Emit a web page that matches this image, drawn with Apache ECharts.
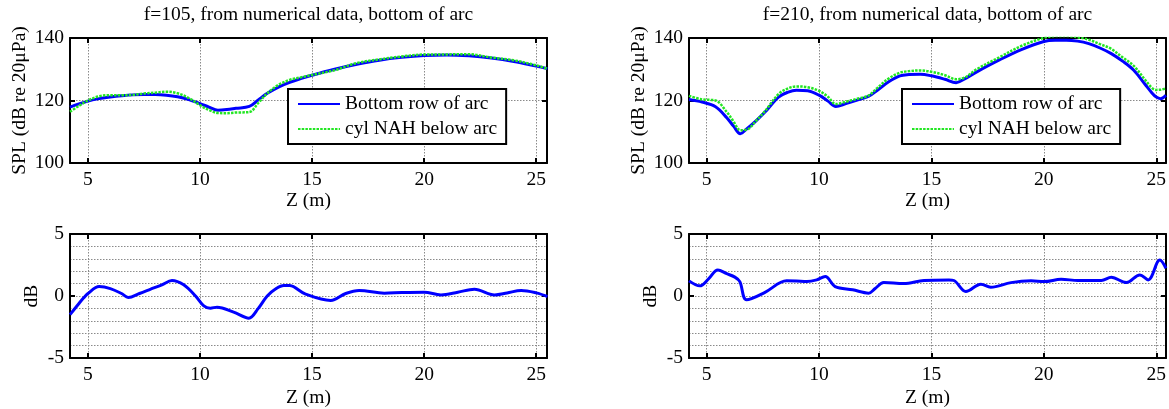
<!DOCTYPE html>
<html>
<head>
<meta charset="utf-8">
<script src="https://cdn.jsdelivr.net/npm/echarts@6/dist/echarts.min.js"></script>
<style>
html,body{margin:0;padding:0;background:#fff;}
#chart{width:1169px;height:409px;}
</style>
</head>
<body>
<div id="chart"></div>
<script>
// ---------- data ----------
const titles = ['f=105, from numerical data, bottom of arc', 'f=210, from numerical data, bottom of arc'];
const seriesNames = ['Bottom row of arc', 'cyl NAH below arc'];
const xTickValues = [5, 10, 15, 20, 25];

// f = 105, top panel
const zL = [4.2, 4.6, 5.0, 5.5, 6.0, 6.5, 7.0, 7.5, 8.0, 8.5, 9.0, 9.5, 10.0, 10.4, 10.8, 11.2, 11.6, 12.2, 12.6, 13.0, 13.5, 14.0, 14.5, 15.0, 16.0, 17.0, 18.0, 19.0, 20.0, 21.0, 22.0, 23.0, 24.0, 25.0, 25.5];
const bottomRowL = [117.9, 118.9, 119.8, 120.6, 121.1, 121.5, 121.8, 121.9, 121.9, 121.7, 121.2, 120.3, 119.0, 117.9, 116.9, 117.1, 117.5, 118.1, 120.2, 122.3, 124.3, 125.8, 127.0, 128.1, 130.0, 131.6, 132.9, 133.8, 134.4, 134.6, 134.3, 133.6, 132.5, 131.0, 130.2];
const cylNahL = [116.4, 118.3, 120.0, 121.35, 121.7, 121.7, 121.8, 122.25, 122.5, 122.8, 122.3, 120.8, 118.5, 116.95, 116.0, 115.95, 116.15, 116.3, 119.2, 122.3, 125.0, 126.6, 127.4, 128.15, 129.7, 132.0, 133.15, 134.1, 134.7, 134.75, 134.8, 133.75, 132.85, 131.25, 130.15];

// f = 105, difference panel
const zDiffL = [4.2, 4.6, 4.8, 5.0, 5.5, 6.0, 6.5, 6.8, 7.3, 7.8, 8.3, 8.75, 9.27, 9.8, 10.17, 10.46, 10.76, 11.5, 12.18, 12.6, 13.0, 13.4, 13.74, 14.0, 14.71, 15.83, 16.5, 17.1, 18.22, 19.0, 20.0, 20.75, 21.5, 22.24, 23.14, 23.7, 24.33, 25.0, 25.5];
const diffL = [-1.5, -0.6, -0.17, 0.2, 0.76, 0.6, 0.2, -0.12, 0.2, 0.55, 0.9, 1.25, 0.9, 0.0, -0.79, -0.98, -0.9, -1.3, -1.79, -1.0, 0.0, 0.6, 0.85, 0.84, 0.15, -0.36, 0.2, 0.44, 0.23, 0.28, 0.31, 0.09, 0.3, 0.55, 0.09, 0.25, 0.44, 0.25, -0.04];

// f = 210, top panel
const zR = [4.22, 4.8, 5.4, 5.9, 6.2, 6.5, 6.8, 7.2, 7.6, 8.2, 8.6, 9.0, 9.5, 10.0, 10.4, 10.75, 11.2, 11.7, 12.2, 12.6, 13.1, 13.6, 14.0, 14.5, 15.0, 15.6, 16.1, 16.5, 17.0, 18.0, 19.0, 20.0, 20.5, 21.0, 21.5, 22.0, 22.5, 23.0, 23.5, 24.0, 24.5, 24.8, 25.0, 25.2, 25.43];
const bottomRowR = [120.3, 119.5, 118.0, 114.5, 111.8, 109.4, 111.0, 113.5, 116.3, 121.1, 122.6, 123.3, 123.1, 121.7, 119.8, 118.1, 119.0, 120.1, 121.3, 123.3, 126.0, 127.9, 128.3, 128.4, 127.9, 126.8, 125.7, 127.0, 129.1, 132.9, 136.3, 138.9, 139.3, 139.3, 139.0, 138.2, 136.8, 135.0, 132.6, 129.7, 125.2, 122.5, 121.1, 120.6, 121.7];
const cylNahR = [121.5, 120.35, 120.0, 116.3, 113.3, 110.5, 110.7, 113.5, 116.6, 122.05, 123.8, 124.5, 124.25, 123.1, 121.2, 118.85, 119.6, 120.55, 121.55, 124.05, 127.05, 128.9, 129.4, 129.6, 129.17, 128.1, 126.8, 127.4, 129.95, 133.75, 137.45, 140.06, 140.6, 140.63, 140.25, 139.45, 138.05, 136.5, 133.8, 131.1, 126.65, 124.1, 123.4, 123.45, 123.94];

// f = 210, difference panel
const zDiffR = [4.22, 4.7, 5.1, 5.5, 5.9, 6.26, 6.48, 6.78, 7.6, 8.56, 9.0, 9.46, 9.9, 10.28, 10.72, 11.5, 12.21, 12.5, 12.88, 13.77, 14.67, 15.78, 16.0, 16.53, 17.2, 17.64, 18.54, 19.43, 20.02, 20.77, 21.52, 22.56, 23.0, 23.67, 24.27, 24.64, 25.16, 25.43];
const diffR = [1.22, 0.82, 1.4, 2.1, 1.8, 1.52, 1.16, -0.31, 0.3, 1.22, 1.2, 1.16, 1.3, 1.57, 0.76, 0.5, 0.23, 0.6, 1.08, 1.0, 1.25, 1.3, 1.25, 0.36, 0.95, 0.71, 1.08, 1.22, 1.16, 1.35, 1.25, 1.25, 1.51, 1.08, 1.7, 1.3, 2.9, 2.24];

// ---------- chart ----------
const FONT = "'Liberation Serif', 'Times New Roman', serif";
const FS = 19.5;
const pairs = (xs, ys) => xs.map((x, i) => [x, ys[i]]);

const grids = [
  {left: 70, top: 38, width: 477, height: 125},
  {left: 70, top: 234, width: 477, height: 124},
  {left: 689, top: 38, width: 477, height: 125},
  {left: 689, top: 234, width: 477, height: 124}
];
const xRanges = [[4.2, 25.48], [4.2, 25.48], [4.22, 25.43], [4.22, 25.43]];
const isTop = [true, false, true, false];

const gridLine = {color: '#8a8a8a', width: 1, type: [1.5, 1.5]};
const xAxes = [], yAxes = [];
grids.forEach((g, i) => {
  const [mn, mx] = xRanges[i];
  const top = isTop[i];
  xAxes.push({
    type: 'value', gridIndex: i, min: mn, max: mx, position: 'bottom',
    name: 'Z (m)', nameLocation: 'middle', nameGap: top ? 28 : 30,
    nameTextStyle: {fontFamily: FONT, fontSize: FS, color: '#000'},
    axisLine: {show: true, onZero: false, lineStyle: {color: '#000', width: 2}},
    axisTick: {show: true, inside: true, length: 5, customValues: xTickValues, lineStyle: {color: '#000', width: 2}},
    axisLabel: {show: true, customValues: xTickValues, fontFamily: FONT, fontSize: FS, color: '#000', margin: 7},
    splitLine: {show: true, lineStyle: gridLine}
  });
  xAxes.push({
    type: 'value', gridIndex: i, min: mn, max: mx, position: 'top',
    axisLine: {show: true, onZero: false, lineStyle: {color: '#000', width: 2}},
    axisTick: {show: true, inside: true, length: 5, customValues: xTickValues, lineStyle: {color: '#000', width: 2}},
    axisLabel: {show: false},
    splitLine: {show: false}
  });
  const yCommon = top ? {min: 100, max: 140, interval: 20} : {min: -5, max: 5, interval: 5};
  yAxes.push(Object.assign({
    type: 'value', gridIndex: i, position: 'left',
    name: top ? 'SPL (dB re 20\u03bcPa)' : 'dB', nameLocation: 'middle', nameGap: top ? 40 : 28,
    nameTextStyle: {fontFamily: FONT, fontSize: FS, color: '#000'},
    axisLine: {show: true, onZero: false, lineStyle: {color: '#000', width: 2}},
    axisTick: {show: true, inside: true, length: 5, lineStyle: {color: '#000', width: 2}},
    axisLabel: {show: true, fontFamily: FONT, fontSize: FS, color: '#000', margin: 6},
    splitLine: {show: true, lineStyle: gridLine},
    minorTick: {show: false, splitNumber: 5},
    minorSplitLine: {show: !top, lineStyle: gridLine}
  }, yCommon));
  yAxes.push(Object.assign({
    type: 'value', gridIndex: i, position: 'right',
    axisLine: {show: true, onZero: false, lineStyle: {color: '#000', width: 2}},
    axisTick: {show: true, inside: true, length: 5, lineStyle: {color: '#000', width: 2}},
    axisLabel: {show: false},
    splitLine: {show: false}
  }, yCommon));
});

const blueStyle = {color: '#0000ff', width: 3};
const greenStyle = {color: '#22e622', width: 2.5, type: [2.5, 1.2]};
const mk = (name, gi, data, ls, z) => ({
  type: 'line', name: name, xAxisIndex: gi * 2, yAxisIndex: gi * 2, data: data,
  showSymbol: false, symbol: 'none', smooth: 0.35, lineStyle: ls, itemStyle: {color: ls.color},
  clip: true, z: z, animation: false
});

const series = [
  mk(seriesNames[0], 0, pairs(zL, bottomRowL), blueStyle, 3),
  mk(seriesNames[1], 0, pairs(zL, cylNahL), greenStyle, 4),
  mk('diff105', 1, pairs(zDiffL, diffL), blueStyle, 3),
  mk(seriesNames[0], 2, pairs(zR, bottomRowR), blueStyle, 3),
  mk(seriesNames[1], 2, pairs(zR, cylNahR), greenStyle, 4),
  mk('diff210', 3, pairs(zDiffR, diffR), blueStyle, 3)
];

const legendBase = {
  data: seriesNames, orient: 'vertical', top: 89,
  padding: [5, 9, 5, 9], itemGap: 5, itemWidth: 42, itemHeight: 14,
  backgroundColor: '#fff', borderColor: '#000', borderWidth: 2, borderRadius: 0,
  selectedMode: false,
  itemStyle: {opacity: 0},
  textStyle: {fontFamily: FONT, fontSize: FS, color: '#000', padding: [0, 0, 0, 0]}
};

const option = {
  animation: false,
  backgroundColor: '#fff',
  grid: grids.map(g => Object.assign({show: false, containLabel: false}, g)),
  xAxis: xAxes,
  yAxis: yAxes,
  legend: [
    Object.assign({}, legendBase, {left: 288}),
    Object.assign({}, legendBase, {left: 902})
  ],
  graphic: [
    {type: 'text', x: 308.5, y: 15, style: {text: titles[0], font: FS + 'px ' + FONT, fill: '#000', textAlign: 'center', textVerticalAlign: 'middle'}},
    {type: 'text', x: 927.5, y: 15, style: {text: titles[1], font: FS + 'px ' + FONT, fill: '#000', textAlign: 'center', textVerticalAlign: 'middle'}}
  ],
  series: series
};

const chart = echarts.init(document.getElementById('chart'), null, {renderer: 'canvas'});
chart.setOption(option);
</script>
</body>
</html>
